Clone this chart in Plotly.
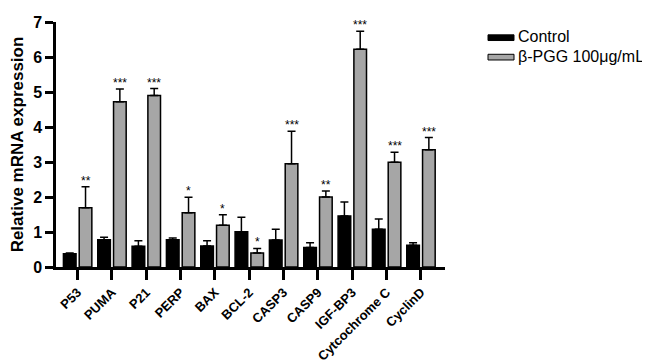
import plotly.graph_objects as go

genes = ["P53", "PUMA", "P21", "PERP", "BAX", "BCL-2", "CASP3", "CASP9",
         "IGF-BP3", "Cytcochrome C", "CyclinD"]
control = [0.38, 0.78, 0.59, 0.78, 0.60, 1.01, 0.77, 0.56, 1.46, 1.08, 0.62]
control_err = [0.02, 0.07, 0.16, 0.05, 0.15, 0.41, 0.31, 0.13, 0.40, 0.29, 0.07]
treated = [1.69, 4.72, 4.90, 1.55, 1.19, 0.40, 2.95, 2.00, 6.22, 2.99, 3.35]
treated_err = [0.60, 0.37, 0.20, 0.44, 0.30, 0.13, 0.93, 0.17, 0.52, 0.29, 0.35]
stars = ["**", "***", "***", "*", "*", "*", "***", "**", "***", "***", "***"]
series_names = ["Control", "β-PGG 100μg/mL"]
y_ticks = [0, 1, 2, 3, 4, 5, 6, 7]

FONT = "Liberation Sans, Arial, sans-serif"
W, H = 650, 362
L, R, T, B = 48, 213, 6, 98
PW = W - L - R
PH = H - T - B


def px_x(px):
    return (px - L) / PW


def px_y(py):
    return 1 - (py - T) / PH


fig = go.Figure()
fig.add_trace(go.Bar(
    x=genes, y=control, name=series_names[0],
    marker=dict(color="black", line=dict(color="black", width=1.5)),
    error_y=dict(type="data", array=control_err, arrayminus=[0] * len(genes),
                 symmetric=False, color="black", thickness=1.5, width=4),
    showlegend=False,
))
fig.add_trace(go.Bar(
    x=genes, y=treated, name=series_names[1],
    marker=dict(color="#a6a6a6", line=dict(color="black", width=1.5)),
    error_y=dict(type="data", array=treated_err, arrayminus=[0] * len(genes),
                 symmetric=False, color="black", thickness=1.5, width=4),
    showlegend=False,
))

annotations = []
for g, v, e, s in zip(genes, treated, treated_err, stars):
    annotations.append(dict(
        x=g, y=v + e, text=s, showarrow=False, xanchor="center", yanchor="bottom",
        xshift=8, yshift=-3, font=dict(family=FONT, size=12, color="black"),
    ))

# manual legend
shapes = []
legend_rows = [(22.5, "black"), (43, "#a6a6a6")]
for (cy, col), name in zip(legend_rows, series_names):
    shapes.append(dict(type="rect", xref="paper", yref="paper",
                       x0=px_x(480), x1=px_x(506), y0=px_y(cy + 3), y1=px_y(cy - 3),
                       fillcolor=col, line=dict(color="black", width=1)))
    annotations.append(dict(xref="paper", yref="paper", x=px_x(508), y=px_y(cy - 1),
                            text=name, showarrow=False, xanchor="left", yanchor="middle",
                            font=dict(family=FONT, size=16, color="black")))

fig.update_layout(
    width=W, height=H,
    margin=dict(l=L, r=R, t=T, b=B, pad=0),
    paper_bgcolor="white", plot_bgcolor="white",
    barmode="group", bargap=0.08, bargroupgap=0.2,
    font=dict(family=FONT, color="black"),
    annotations=annotations, shapes=shapes,
    xaxis=dict(
        range=[-0.63, 10.7], showline=True, linecolor="black", linewidth=2.5,
        ticks="outside", ticklen=10, tickwidth=2.5, tickcolor="black",
        tickangle=-45, showgrid=False, zeroline=False,
        tickfont=dict(family=FONT, size=13, color="black", weight="bold"),
    ),
    yaxis=dict(
        range=[0, 7.001], tickmode="array", tickvals=y_ticks,
        ticklabeloverflow="allow",
        showline=True, linecolor="black", linewidth=2.5,
        ticks="outside", ticklen=8, tickwidth=2.5, tickcolor="black",
        showgrid=False, zeroline=False,
        tickfont=dict(family=FONT, size=16, color="black", weight="bold"),
        title=dict(text="Relative mRNA expression", standoff=6,
                   font=dict(family=FONT, size=17, color="black", weight="bold")),
    ),
)

fig.write_html("out.html")
